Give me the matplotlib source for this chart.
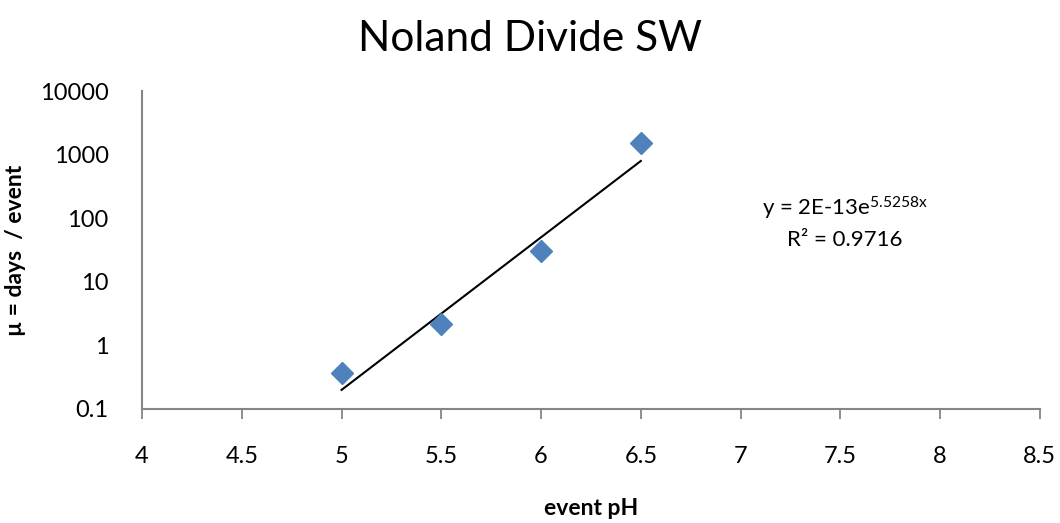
import numpy as np
import matplotlib
matplotlib.use("Agg")
import matplotlib.pyplot as plt
from matplotlib.ticker import FixedLocator, FixedFormatter, NullLocator

plt.rcParams["font.family"] = ["Lato", "DejaVu Sans"]
plt.rcParams["mathtext.fontset"] = "custom"
plt.rcParams["mathtext.rm"] = "Lato"
plt.rcParams["mathtext.it"] = "Lato"

# event pH vs mean days per event
ph = [5.0, 5.5, 6.0, 6.5]
days_per_event = [0.364, 2.17, 30.8, 1520]

# exponential trendline y = a * exp(b x)
fit_a = 2e-13
fit_b = 5.5258
r_squared = 0.9716

x_ticks = [4, 4.5, 5, 5.5, 6, 6.5, 7, 7.5, 8, 8.5]
x_tick_labels = ["4", "4.5", "5", "5.5", "6", "6.5", "7", "7.5", "8", "8.5"]
y_ticks = [0.1, 1, 10, 100, 1000, 10000]
y_tick_labels = ["0.1", "1", "10", "100", "1000", "10000"]

fig = plt.figure(figsize=(10.6, 5.23), dpi=100)
ax = fig.add_axes([0.134, 0.218, 0.847, 0.608])

xfit = np.linspace(min(ph), max(ph), 100)
ax.plot(xfit, fit_a * np.exp(fit_b * xfit), color="black", lw=1.5, zorder=2)
ax.plot(ph, days_per_event, linestyle="none", marker="D", markersize=11,
        color="#4F81BD", markeredgecolor="#4F81BD", zorder=3)

ax.set_yscale("log")
ax.set_xlim(4, 8.5)
ax.set_ylim(0.1, 10000)
ax.xaxis.set_major_locator(FixedLocator(x_ticks))
ax.xaxis.set_major_formatter(FixedFormatter(x_tick_labels))
ax.yaxis.set_major_locator(FixedLocator(y_ticks))
ax.yaxis.set_major_formatter(FixedFormatter(y_tick_labels))
ax.yaxis.set_minor_locator(NullLocator())

for side in ["top", "right"]:
    ax.spines[side].set_visible(False)
for side in ["left", "bottom"]:
    ax.spines[side].set_color("#868686")
    ax.spines[side].set_linewidth(1.5)

ax.tick_params(axis="x", direction="out", length=7, width=1.3, color="#868686",
               labelsize=17, pad=20)
ax.tick_params(axis="y", length=0, labelsize=17, pad=24)

ax.set_xlabel("event pH", fontsize=16.5, fontweight="bold", labelpad=22)
ax.set_ylabel("µ = days  / event", fontsize=16.5, fontweight="bold", labelpad=10)

fig.suptitle("Noland Divide SW", fontsize=30.5, y=0.962)

ax.text(0.783, 0.632, r"y = 2E-13e$^{5.5258x}$", transform=ax.transAxes,
        ha="center", va="center", fontsize=16)
ax.text(0.783, 0.531, "R² = %.4f" % r_squared, transform=ax.transAxes,
        ha="center", va="center", fontsize=16)

fig.savefig("out.png", dpi=100)
